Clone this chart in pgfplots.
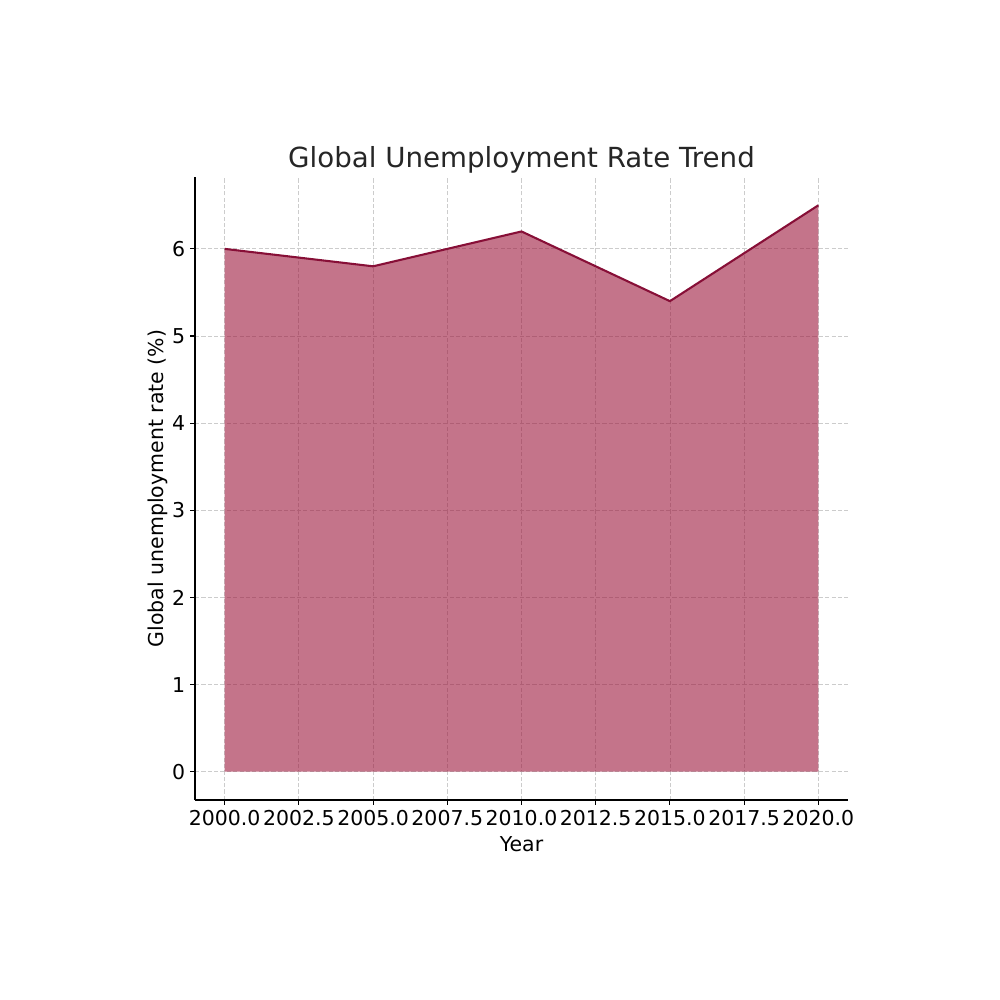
\documentclass[border=0pt]{standalone}
\usepackage{pgfplots}
\pgfplotsset{compat=1.18}
\usepackage{fontspec}
\setmainfont{DejaVu Sans}
\definecolor{areabase}{RGB}{157,23,60}
\definecolor{lineclr}{RGB}{135,15,55}
\definecolor{txt}{RGB}{38,38,38}

\begin{document}
\begin{tikzpicture}[x=1in,y=1in]
\path (0,0) rectangle (10,-10);
\begin{axis}[
  at={(1.95in,-8.00in)}, anchor=south west,
  scale only axis,
  width=6.53in, height=6.23in,
  xmin=1999, xmax=2021,
  ymin=-0.325, ymax=6.825,
  axis x line*=bottom, axis y line*=left,
  axis line style={black, line width=1.1pt},
  xtick={2000,2002.5,2005,2007.5,2010,2012.5,2015,2017.5,2020},
  ytick={0,1,2,3,4,5,6},
  xticklabel style={/pgf/number format/.cd, fixed, fixed zerofill, precision=1, 1000 sep={}},
  /pgf/number format/assume math mode=true,
  tick align=outside,
  major tick length=3.6pt,
  tick style={black, line width=0.8pt},
  ticklabel style={font=\fontsize{14.8}{17}\selectfont, text=black},
  xtick pos=bottom, ytick pos=left,
  grid=major,
  major grid style={gray!40, dash pattern=on 3pt off 1.6pt, line width=0.6pt},
  title={Global Unemployment Rate Trend},
  title style={font=\fontsize{20}{24}\selectfont, text=txt, yshift=-6.8pt},
  xlabel={Year},
  ylabel={Global unemployment rate (\%)},
  label style={font=\fontsize{14.8}{17}\selectfont, text=black},
  xlabel style={yshift=-1pt},
  ylabel style={yshift=-4pt},
]
\addplot[draw=none, fill=areabase, fill opacity=0.6]
  coordinates {(2000,6.0) (2005,5.8) (2010,6.2) (2015,5.4) (2020,6.5)} \closedcycle;
\addplot[lineclr, line width=1.5pt]
  coordinates {(2000,6.0) (2005,5.8) (2010,6.2) (2015,5.4) (2020,6.5)};
\end{axis}
\end{tikzpicture}
\end{document}
